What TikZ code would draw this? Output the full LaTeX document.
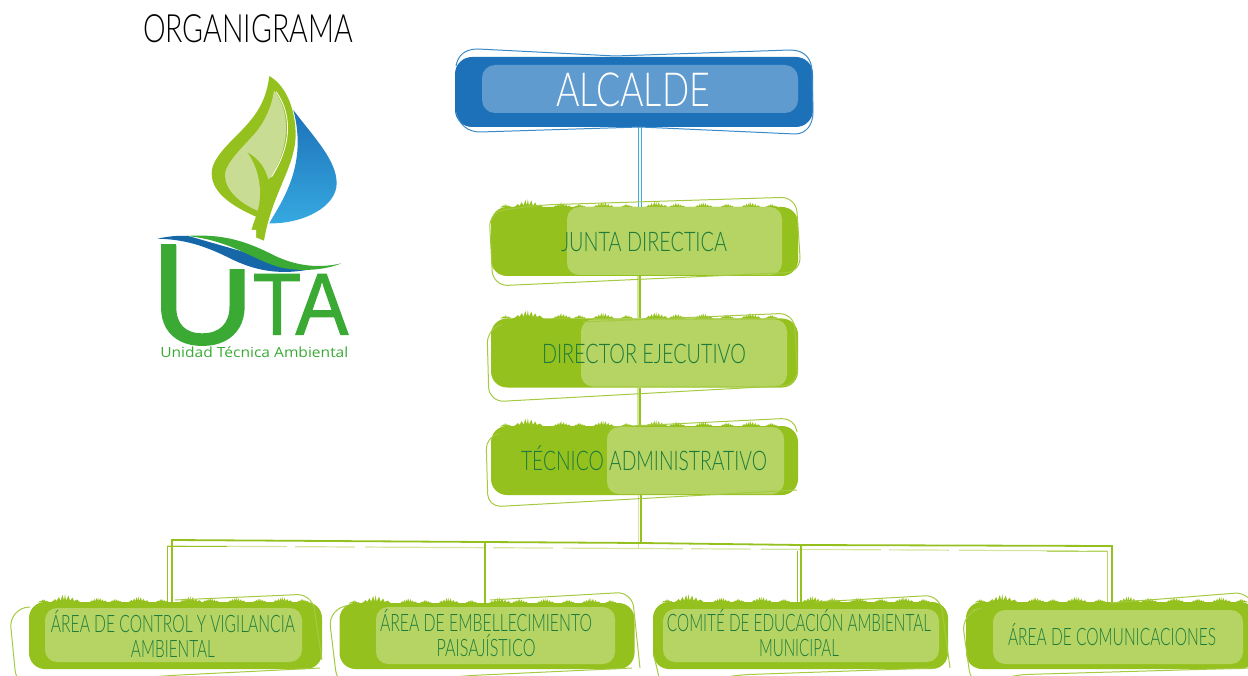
\documentclass[tikz,border=0pt]{standalone}
\usepackage{fontspec}
\usepackage{graphicx}
\usetikzlibrary{backgrounds,calc}
\setmainfont{Liberation Sans}
\newfontfamily\thinfont{Lato}[UprightFont=* Light]
\newfontfamily\logofont{Liberation Sans}[FakeBold=1.2]
\newfontfamily\subfont{Open Sans}
\definecolor{azul}{HTML}{1D71B8}
\definecolor{azulpanel}{HTML}{5F9BCF}
\definecolor{azullinea}{HTML}{3A8AC8}
\definecolor{celeste}{HTML}{36A9E1}
\definecolor{verde}{HTML}{95C11F}
\definecolor{verdepanel}{HTML}{B5D463}
\definecolor{verdepale}{HTML}{D5E5A0}
\definecolor{verdetexto}{HTML}{1E7B3C}
\definecolor{verdelogo}{HTML}{3AAA35}
\definecolor{hoja}{HTML}{C9DC93}
\definecolor{olalogo}{HTML}{1567A8}
\newcommand\fitw[2]{\resizebox{#1pt}{\height}{#2}}
\newcommand\tuft[3]{% x, y(base), scale
  \fill[verde,shift={(#1,#2)},xscale=#3,yscale=#3]
    (-16,1) -- (-12,-1) -- (-10,-3) -- (-8.5,-1) -- (-6,-5) -- (-4.5,-1.2) -- (-2.5,-7) -- (-1,-1.5) -- (0,-8)
    -- (1,-1.5) -- (3.5,-6.5) -- (5,-1.2) -- (7.5,-4.5) -- (9,-1) -- (12,-2.5) -- (16,1) -- cycle;}
\newcommand\grass[3]{% x0, width, y of the top
  \foreach \f/\s in {.05/.35,.125/1,.24/.6,.30/.4,.38/.7,.46/.4,.56/.75,.63/.55,.72/.6,.80/.45,.88/.65,.95/.4}
    {\tuft{#1+\f*#2}{#3}{\s}}}
\tikzset{
  panelbase/.style={rectangle,inner sep=0pt,outer sep=0pt,rounded corners=#1},
  azulbox/.style={panelbase=17pt,fill=azul},
  azulpan/.style={panelbase=13pt,fill=azulpanel},
  verdebox/.style={panelbase=16pt,fill=verde},
  verdepan/.style={panelbase=12pt,fill=verdepanel},
  titulo/.style={inner sep=0pt,font=\thinfont\fontsize{39}{39}\selectfont,text=black},
  azultexto/.style={inner sep=0pt,font=\thinfont\fontsize{47}{47}\selectfont,text=white},
  cargo/.style={inner sep=0pt,font=\thinfont\fontsize{27}{27}\selectfont,text=verdetexto},
  area/.style={inner sep=0pt,align=center,font=\thinfont\fontsize{24}{25}\selectfont,text=verdetexto},
  trazo/.style={rounded corners=#1,line width=1pt,draw=verde!85!white},
  trazoazul/.style={line width=1pt,draw=azullinea},
  conector/.style={line width=1.8pt,draw=verde},
  conectorpale/.style={line width=1.2pt,draw=verdepale},
  conectorazul/.style={line width=1.5pt,draw=celeste},
}
\begin{document}
\begin{tikzpicture}[x=1pt,y=-1pt]
\path[use as bounding box,clip] (0,0) rectangle (1248,676);

% ---- title
\node[titulo] (tit) at (248,29) {\fitw{210}{ORGANIGRAMA}};

% ---- logo (coordinates of the 3x crop)
\begin{scope}[shift={(130,0)},x=.33333pt,y=-.33333pt]
  \path[top color=azul,bottom color=celeste]
    (490,330) .. controls (550,410) and (620,480) .. (620,550)
    .. controls (620,620) and (520,672) .. (418,670)
    .. controls (445,620) and (505,540) .. (503,420)
    .. controls (502,385) and (497,355) .. (490,330) -- cycle;
  \fill[verde]
    (418,228) .. controls (465,255) and (495,320) .. (497,400)
    .. controls (498,500) and (425,580) .. (402,722)
    -- (360,705) .. controls (367,680) and (372,665) .. (378,650)
    .. controls (310,620) and (245,580) .. (245,520)
    .. controls (245,470) and (310,420) .. (350,375)
    .. controls (390,330) and (410,290) .. (418,228) -- cycle;
  \fill[hoja]
    (432,272) .. controls (470,320) and (492,410) .. (425,530)
    -- (415,538) .. controls (405,500) and (385,475) .. (350,455)
    .. controls (385,500) and (400,570) .. (383,632)
    .. controls (330,610) and (285,570) .. (285,525)
    .. controls (285,490) and (340,440) .. (375,400)
    .. controls (405,365) and (425,320) .. (432,272) -- cycle;
  \draw[white,line width=.8pt] (438,275) .. controls (478,330) and (495,420) .. (425,530);
  \node[inner sep=0pt,anchor=base west,text=verdelogo,font=\logofont\fontsize{144}{144}\selectfont] (letU) at (62,1031) {\fitw{104}{U}};
  \fill[white] (138,690) -- (378,690) -- (378,807) -- (280,807) -- (138,735) -- cycle;
  \fill[white] (60,680) rectangle (138,732);
  \fill[olalogo]
    (82,716) .. controls (120,708) and (150,706) .. (175,708)
    -- (530,810) .. controls (440,825) and (370,810) .. (300,775)
    .. controls (220,735) and (160,718) .. (82,716) -- cycle;
  \fill[verdelogo]
    (170,708) .. controls (290,700) and (360,730) .. (430,765)
    .. controls (500,800) and (570,805) .. (634,790)
    .. controls (580,812) and (510,815) .. (450,802)
    .. controls (370,780) and (300,720) .. (170,708) -- cycle;
  \node[inner sep=0pt,anchor=base west,text=verdelogo,font=\logofont\fontsize{88}{88}\selectfont] (letTA) at (368,1004) {\fitw{95.5}{TA}};
  \node[inner sep=0pt,text=verdelogo,font=\subfont\fontsize{14}{14}\selectfont] (subt) at (373,1056) {\fitw{188}{Unidad Técnica Ambiental}};
\end{scope}

% ---- ALCALDE
\node[azulbox,minimum width=358pt,minimum height=70pt] (alc) at (634,92) {};
\node[azulpan,minimum width=316pt,minimum height=48pt] (alcp) at (640,89) {};
\node[azultexto] (alct) at (633,90) {\fitw{154}{ALCALDE}};
\draw[trazoazul] (456,66) .. controls (458,55) and (465,49) .. (478,49) -- (615,56) -- (790,50)
  .. controls (804,50) and (812,58) .. (812,72) -- (813,112)
  .. controls (813,125) and (806,134) .. (795,134) -- (640,127) -- (480,132)
  .. controls (468,132) and (459,125) .. (456,112);

% ---- JUNTA DIRECTICA
\grass{491}{295}{207}
\node[verdebox,minimum width=307pt,minimum height=69pt] (jd) at (644.5,241.5) {};
\node[verdepan,minimum width=215pt,minimum height=68pt] (jdp) at (674.5,241) {};
\node[cargo] (jdt) at (644,242) {\fitw{166}{JUNTA DIRECTICA}};
\draw[trazo=15pt] (540,205) -- (796,197) -- (801,272) -- (493,286) -- (489,212) -- cycle;

% ---- DIRECTOR EJECUTIVO
\grass{491}{295}{318}
\node[verdebox,minimum width=307pt,minimum height=69pt] (de) at (644.5,353) {};
\node[verdepan,minimum width=206pt,minimum height=67pt] (dep) at (684,353) {};
\node[cargo] (det) at (644,354) {\fitw{204}{DIRECTOR EJECUTIVO}};
\draw[trazo=15pt] (583,322) -- (794,313) -- (798,385) -- (489,402) -- (487,328) -- (500,325);

% ---- TECNICO ADMINISTRATIVO
\grass{491}{295}{426}
\node[verdebox,minimum width=307pt,minimum height=69pt] (ta) at (644.5,460.5) {};
\node[verdepan,minimum width=177pt,minimum height=67pt] (tap) at (695.5,460.5) {};
\node[cargo] (tat) at (644,458) {\fitw{246}{TÉCNICO ADMINISTRATIVO}};
\draw[trazo=13pt] (610,427) -- (795,418) -- (797,432);
\draw[trazo=13pt] (797,490) -- (488,507) -- (486,436) -- (498,434);

% ---- bottom row
\grass{29}{288}{602}
\node[verdebox,minimum width=293pt,minimum height=67pt] (a1) at (175.5,635.5) {};
\node[verdepan,minimum width=257pt,minimum height=54pt] (a1p) at (173.5,635) {};
\node[area] (a1t) at (173,633.5) {\fitw{244}{ÁREA DE CONTROL Y VIGILANCIA}\\\fitw{84}{AMBIENTAL}};
\draw[trazo=15pt] (175,600) -- (312,594) -- (322,660);
\draw[trazo=20pt] (30,607) -- (9,608) -- (17,690) -- (160,676) -- (320,668);

\grass{340}{285}{603}
\node[verdebox,minimum width=295pt,minimum height=66pt] (a2) at (487,636) {};
\node[verdepan,minimum width=239pt,minimum height=57pt] (a2p) at (495.5,635.5) {};
\node[area] (a2t) at (486,633.5) {\fitw{212}{ÁREA DE EMBELLECIMIENTO}\\\fitw{99}{PAISAJÍSTICO}};
\draw[trazo=15pt] (490,600) -- (632,592) -- (640,668);
\draw[trazo=20pt] (345,606) -- (328,607) -- (338,690) -- (460,676) -- (632,668);

\grass{653}{285}{602}
\node[verdebox,minimum width=295pt,minimum height=67pt] (a3) at (800.5,635.5) {};
\node[verdepan,minimum width=276pt,minimum height=53pt] (a3p) at (801,635.5) {};
\node[area] (a3t) at (799,633.5) {\fitw{264}{COMITÉ DE EDUCACIÓN AMBIENTAL}\\\fitw{80}{MUNICIPAL}};
\draw[trazo=15pt] (815,602) -- (940,595) -- (950,668);
\draw[trazo=15pt] (654,656) -- (662,690) -- (735,675) -- (935,668);

\grass{966}{290}{602}
\node[verdebox,minimum width=290pt,minimum height=67pt] (a4) at (1111,635.5) {};
\node[verdepan,minimum width=250pt,minimum height=54pt] (a4p) at (1118,637) {};
\node[area] (a4t) at (1112,634.5) {\fitw{208}{ÁREA DE COMUNICACIONES}};
\draw[trazo=15pt] (1110,603) -- (1250,592) -- (1262,640);
\draw[trazo=20pt] (972,610) -- (961,612) -- (972,690) -- (1008,675) -- (1250,668);

% ---- connectors, behind the boxes
\coordinate (busL) at (172,540);
\coordinate (busM) at (641,543);
\coordinate (busN) at (801,545);
\coordinate (busR) at (1112,546);
\coordinate (pubL) at (167,546);
\coordinate (pubR) at (1107,551);
\begin{scope}[on background layer]
  \draw[conectorazul] ([xshift=4.5pt]alc.south) -- ([xshift=4.5pt]alc.south |- jd.north);
  \draw[conectorazul] ([xshift=7.5pt]alc.south) -- ([xshift=7.5pt]alc.south |- jd.north);
  \draw[conector] ([xshift=-4.5pt]jd.south) -- ([xshift=-4.5pt]de.north);
  \draw[conectorpale] ([xshift=-6.5pt]jd.south) -- ([xshift=-6.5pt]de.north);
  \draw[conector] ([xshift=-4.5pt]de.south) -- ([xshift=-4.5pt]ta.north);
  \draw[conectorpale] ([xshift=-6.5pt]de.south) -- ([xshift=-6.5pt]ta.north);
  \draw[conectorpale] ([xshift=-6pt]ta.south) -- ++(0,54);
  \draw[conectorpale,dash pattern=on 120pt off 8pt on 60pt off 10pt] (pubL) -- (pubR);
  \draw[conector] (ta.south -| busM) -- (busM);
  \draw[conector] (a1.north -| busL) -- (busL) -- (busM) -- (busN) -- (busR) -- (a4.north -| busR);
  \draw[conector] ([xshift=-2pt]a2.north) -- ++(0,-60);
  \draw[conector] (a3.north -| busN) -- (busN);
  \draw[line width=.9pt,draw=verde] (a1.north -| pubL) -- (pubL) -- ++(60,0);
  \draw[line width=.9pt,draw=verde] ([xshift=-4pt]a3.north -| busN) -- ([xshift=-4pt]busN |- pubR);
  \draw[line width=.9pt,draw=verde!70!white] (a4.north -| pubR) -- (pubR) -- ++(-60,0);
\end{scope}
\end{tikzpicture}
\end{document}
